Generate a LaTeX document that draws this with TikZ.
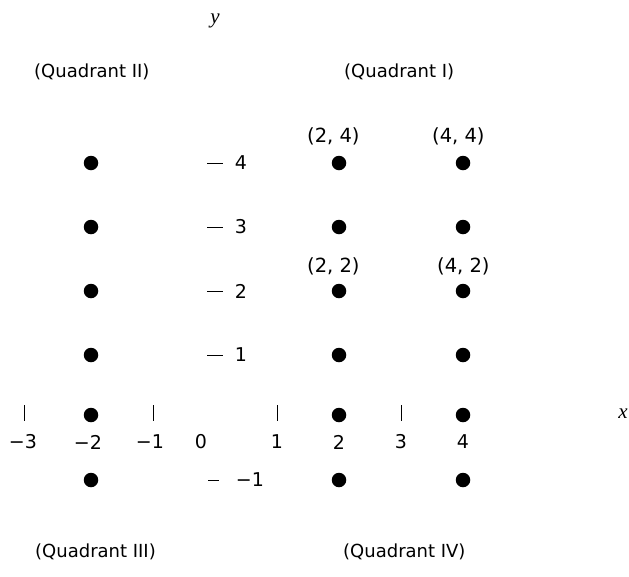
\documentclass[tikz,border=0pt]{standalone}
\usepackage{fontspec}
\setmainfont{DejaVu Sans}
\newfontfamily\serifit{Liberation Serif}
\begin{document}
\begin{tikzpicture}[x=1pt,y=-1pt,
  dot/.style={circle,fill=black,inner sep=0pt,minimum size=14.5pt},
  lbl/.style={inner sep=0pt,font=\fontsize{19}{21}\selectfont},
  plbl/.style={inner sep=0pt,anchor=west,font=\fontsize{19.5}{21}\selectfont},
  qlbl/.style={inner sep=0pt,anchor=west,font=\fontsize{18}{20}\selectfont},
  tick/.style={line width=0.9pt}]
\useasboundingbox (0,0) rectangle (629,576);
% axis letters
\node[inner sep=0pt,font=\fontsize{21}{23}\selectfont\serifit\itshape] (ylab) at (215,21) {y};
\node[inner sep=0pt,font=\fontsize{21}{23}\selectfont\serifit\itshape] (xlab) at (623,414) {x};
% quadrant labels
\node[qlbl] (q2) at (34,72) {(Quadrant II)};
\node[qlbl] (q1) at (344,72) {(Quadrant I)};
\node[qlbl] (q3) at (35,552) {(Quadrant III)};
\node[qlbl] (q4) at (343,552) {(Quadrant IV)};
% dots
\foreach \c/\px in {m2/91,p2/339,p4/463}{
  \foreach \r/\py in {4/163,3/227,2/291,1/355,0/415,n1/480}{
    \node[dot] (d\c\r) at (\px,\py) {};
  }
}
% point labels
\node[plbl] (l24) at (307,136) {(2, 4)};
\node[plbl] (l44) at (432,136) {(4, 4)};
\node[plbl] (l22) at (307,266) {(2, 2)};
\node[plbl] (l42) at (437,266) {(4, 2)};
% x-axis ticks
\foreach \n/\px in {m3/24,m1/153,p1/277,p3/401}{
  \coordinate (xt\n a) at (\px,405);
  \coordinate (xt\n b) at (\px,421);
  \draw[tick] (xt\n a) -- (xt\n b);
}
% x-axis labels
\node[lbl] (xm3) at (23,442) {−3};
\node[lbl] (xm2) at (88,442) {−2};
\node[lbl] (xm1) at (150,442) {−1};
\node[lbl] (x0) at (201,442) {0};
\node[lbl] (xp1) at (277,442) {1};
\node[lbl] (xp2) at (339,442) {2};
\node[lbl] (xp3) at (401,442) {3};
\node[lbl] (xp4) at (463,442) {4};
% y-axis ticks and labels
\foreach \n/\py in {4/163,3/227,2/291,1/355}{
  \coordinate (yt\n a) at (207,\py);
  \coordinate (yt\n b) at (223,\py);
  \draw[tick] (yt\n a) -- (yt\n b);
  \node[lbl] (y\n) at (241,\py) {\n};
}
\coordinate (ytn1a) at (208,480);
\coordinate (ytn1b) at (219,480);
\draw[tick] (ytn1a) -- (ytn1b);
\node[lbl] (yn1) at (250,480) {−1};
\end{tikzpicture}
\end{document}
